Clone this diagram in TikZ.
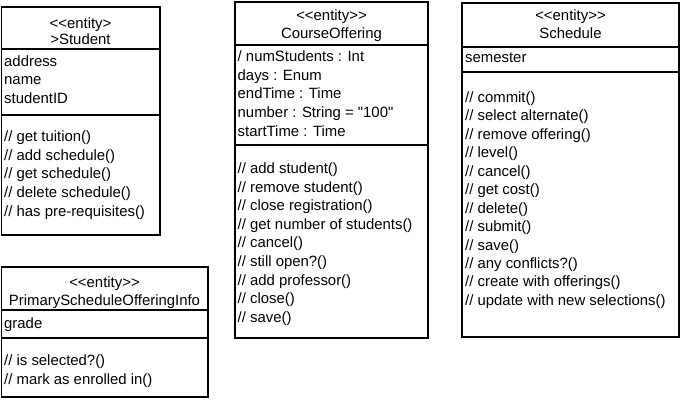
\documentclass[tikz,border=0pt]{standalone}
\usepackage{fontspec}
\setmainfont{Liberation Sans}[Ligatures=TeXOff]
\begin{document}
\begin{tikzpicture}[x=1pt,y=-1pt,
  box/.style={draw, line width=1.4pt},
  txt/.style={anchor=west, inner sep=0pt, text height=11pt, text depth=0pt, font=\fontsize{14.9}{16}\selectfont},
  hdr/.style={anchor=center, inner sep=0pt, text height=11pt, text depth=0pt, font=\fontsize{14.9}{16}\selectfont}]
\useasboundingbox (0,0) rectangle (688,403);
% Student
\draw[box] (1.5,7) rectangle (160,235);
\draw[box] (1.5,49) -- (160,49);
\draw[box] (1.5,115) -- (160,115);
\node[hdr] (stuS) at (80.5,23) {<<entity>};
\node[hdr] (stuN) at (80.5,39) {>Student};
\foreach [count=\i] \t in {address,name,studentID}
  \node[txt] (stuA\i) at (4,{61+(\i-1)*18.5}) {\t};
\foreach [count=\i] \t in {// get tuition(),// add schedule(),// get schedule(),// delete schedule(),// has pre-requisites()}
  \node[txt] (stuO\i) at (4,{136+(\i-1)*18.7}) {\t};
% PrimaryScheduleOfferingInfo
\draw[box] (1.5,267) rectangle (208,397);
\draw[box] (1.5,310) -- (208,310);
\draw[box] (1.5,338) -- (208,338);
\node[hdr] (psS) at (104.5,282) {<<entity>>};
\node[hdr] (psN) at (104.5,300) {PrimaryScheduleOfferingInfo};
\node[txt] (psA1) at (4,323) {grade};
\foreach [count=\i] \t in {// is selected?(),// mark as enrolled in()}
  \node[txt] (psO\i) at (4,{360+(\i-1)*18.5}) {\t};
% CourseOffering
\draw[box] (235,2) rectangle (428,338);
\draw[box] (235,45) -- (428,45);
\draw[box] (235,145) -- (428,145);
\node[hdr] (coS) at (331.5,15) {<<entity>>};
\node[hdr] (coN) at (331.5,33) {CourseOffering};
\foreach [count=\i] \t in {/ numStudents : Int,days : Enum,endTime : Time,number : String = "100",startTime : Time}
  \node[txt] (coA\i) at (237.5,{56+(\i-1)*18.75}) {\t};
\foreach [count=\i] \t in {// add student(),// remove student(),// close registration(),// get number of students(),// cancel(),// still open?(),// add professor(),// close(),// save()}
  \node[txt] (coO\i) at (237.5,{168+(\i-1)*18.6}) {\t};
% Schedule
\draw[box] (462,3) rectangle (679,337);
\draw[box] (462,47) -- (679,47);
\draw[box] (462,72) -- (679,72);
\node[hdr] (scS) at (570.5,15) {<<entity>>};
\node[hdr] (scN) at (570.5,33) {Schedule};
\node[txt] (scA1) at (465,57) {semester};
\foreach [count=\i] \t in {// commit(),// select alternate(),// remove offering(),// level(),// cancel(),// get cost(),// delete(),// submit(),// save(),// any conflicts?(),// create with offerings(),// update with new selections()}
  \node[txt] (scO\i) at (465,{97+(\i-1)*18.45}) {\t};
\end{tikzpicture}
\end{document}
